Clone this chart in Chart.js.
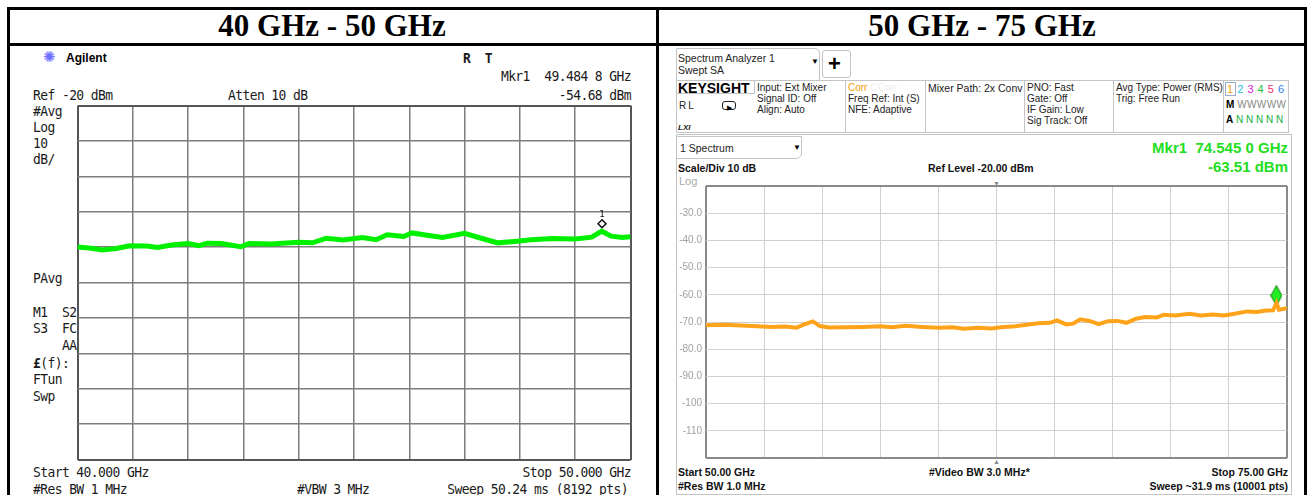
<!DOCTYPE html>
<html>
<head>
<meta charset="utf-8">
<script src="https://cdn.jsdelivr.net/npm/chart.js@4.4.1/dist/chart.umd.min.js"></script>
<style>
html,body{margin:0;padding:0;background:#fff;}
#wrap{position:relative;width:1311px;height:495px;overflow:hidden;font-family:Arial,"Liberation Sans",sans-serif;}
.b{position:absolute;background:#000;}
.t{position:absolute;white-space:pre;line-height:1;}
.ttl{font-family:"Liberation Serif","Times New Roman",serif;font-weight:bold;font-size:31px;width:640px;text-align:center;top:10px;}
.mono{font-family:"DejaVu Sans Mono",monospace;font-size:13px;letter-spacing:-0.6px;color:#1a1a1a;transform:scaleY(1.12);transform-origin:0 50%;}
.mono.r{transform-origin:100% 50%;}
.ks{font-size:10px;color:#222;}
.kb{font-size:10.5px;font-weight:bold;color:#111;}
.box{position:absolute;border:1px solid #c4c4c4;box-sizing:border-box;}
.grn{color:#22dd22;font-weight:bold;font-size:15px;}
canvas{position:absolute;}
</style>
</head>
<body>
<div id="wrap">
  <!-- marco de la tabla -->
  <div class="b" style="left:7px;top:7px;width:1300px;height:3px"></div>
  <div class="b" style="left:7px;top:43px;width:1300px;height:3px"></div>
  <div class="b" style="left:7px;top:7px;width:3px;height:488px"></div>
  <div class="b" style="left:656px;top:7px;width:3px;height:488px"></div>
  <div class="b" style="left:1304px;top:7px;width:3px;height:488px"></div>
  <div class="t ttl" style="left:12px">40 GHz - 50 GHz</div>
  <div class="t ttl" style="left:662px">50 GHz - 75 GHz</div>

  <!-- panel izquierdo (Agilent) -->
  <div class="t" style="left:43px;top:49px;font-size:15px;color:#7070ff">✺</div>
  <div class="t" style="left:66px;top:52px;font-size:12px;font-weight:bold">Agilent</div>
  <div class="t mono" style="left:463px;top:51px;font-weight:bold">R  T</div>
  <div class="t mono r" style="right:680px;top:69px">Mkr1  49.484 8 GHz</div>
  <div class="t mono" style="left:33px;top:88px">Ref -20 dBm</div>
  <div class="t mono" style="left:228px;top:88px">Atten 10 dB</div>
  <div class="t mono r" style="right:680px;top:88px">-54.68 dBm</div>
  <div class="t mono" style="left:33px;top:104px">#Avg</div>
  <div class="t mono" style="left:33px;top:120px">Log</div>
  <div class="t mono" style="left:33px;top:136px">10</div>
  <div class="t mono" style="left:33px;top:152px">dB/</div>
  <div class="t mono" style="left:33px;top:271px">PAvg</div>
  <div class="t mono" style="left:33px;top:305px">M1  S2</div>
  <div class="t mono" style="left:33px;top:321px">S3  FC</div>
  <div class="t mono" style="left:33px;top:338px">    AA</div>
  <div class="t mono" style="left:33px;top:356px"><b>£</b>(f):</div>
  <div class="t mono" style="left:33px;top:372px">FTun</div>
  <div class="t mono" style="left:33px;top:389px">Swp</div>
  <div class="t mono" style="left:33px;top:465px">Start 40.000 GHz</div>
  <div class="t mono r" style="right:680px;top:465px">Stop 50.000 GHz</div>
  <div class="t mono" style="left:33px;top:482px">#Res BW 1 MHz</div>
  <div class="t mono" style="left:297px;top:482px">#VBW 3 MHz</div>
  <div class="t mono r" style="right:683px;top:482px">Sweep 50.24 ms (8192 pts)</div>
  <canvas id="chartIzq" width="564" height="365" style="left:72px;top:100px"></canvas>

  <!-- panel derecho (Keysight) -->
  <div class="box" style="left:676px;top:48px;width:144px;height:33px;border-radius:0 5px 0 0"></div>
  <div class="t ks" style="left:678px;top:53px;font-size:10.5px">Spectrum Analyzer 1</div>
  <div class="t ks" style="left:678px;top:65px;font-size:10.5px">Swept SA</div>
  <div class="t" style="left:811px;top:58px;font-size:8px">▼</div>
  <div class="box" style="left:822px;top:50px;width:29px;height:28px;border-radius:3px"></div>
  <div class="t" style="left:828px;top:53px;font-size:22px;font-weight:bold">+</div>
  <div class="box" style="left:676px;top:80px;width:613px;height:53px"></div>
  <div class="box" style="left:676px;top:80px;width:79px;height:14px;border-width:0 1px 1px 0"></div>
  <div class="box" style="left:754px;top:80px;width:92px;height:53px;border-width:0 1px 0 0"></div>
  <div class="box" style="left:845px;top:80px;width:81px;height:53px;border-width:0 1px 0 0"></div>
  <div class="box" style="left:925px;top:80px;width:100px;height:53px;border-width:0 1px 0 0"></div>
  <div class="box" style="left:1024px;top:80px;width:90px;height:53px;border-width:0 1px 0 0"></div>
  <div class="box" style="left:1113px;top:80px;width:111px;height:53px;border-width:0 1px 0 0"></div>
  <div class="t" style="left:678px;top:81px;font-size:14px;font-weight:bold">KEYSIGHT</div>
  <div class="t ks" style="left:679px;top:101px;letter-spacing:2px">RL</div>
  <div class="box" style="left:722px;top:101px;width:14px;height:9px;border:1.5px solid #222;border-radius:3px"></div>
  <div class="t" style="left:727px;top:104px;font-size:7px">▶</div>
  <div class="t ks" style="left:678px;top:124px;font-size:8px;font-style:italic;font-weight:bold">LXI</div>
  <div class="t ks" style="left:757px;top:83px">Input: Ext Mixer</div>
  <div class="t ks" style="left:757px;top:94px">Signal ID: Off</div>
  <div class="t ks" style="left:757px;top:105px">Align: Auto</div>
  <div class="t ks" style="left:848px;top:83px"><span style="color:#f5a000">Corr</span> <span style="color:#eee">CCorr</span></div>
  <div class="t ks" style="left:848px;top:94px">Freq Ref: Int (S)</div>
  <div class="t ks" style="left:848px;top:105px">NFE: Adaptive</div>
  <div class="t ks" style="left:928px;top:83px;width:96px;overflow:hidden;font-size:10.5px">Mixer Path: 2x Conv</div>
  <div class="t ks" style="left:1027px;top:83px">PNO: Fast</div>
  <div class="t ks" style="left:1027px;top:94px">Gate: Off</div>
  <div class="t ks" style="left:1027px;top:105px">IF Gain: Low</div>
  <div class="t ks" style="left:1027px;top:116px">Sig Track: Off</div>
  <div class="t ks" style="left:1116px;top:83px">Avg Type: Power (RMS)</div>
  <div class="t ks" style="left:1116px;top:94px">Trig: Free Run</div>
  <div class="box" style="left:1225px;top:82px;width:11px;height:14px;border-color:#9ac"></div>
  <div class="t" style="left:1227px;top:84px;font-size:11px;word-spacing:1px"><span style="color:#f5a000">1</span> <span style="color:#20c0e0">2</span> <span style="color:#e020e0">3</span> <span style="color:#20c040">4</span> <span style="color:#f03070">5</span> <span style="color:#3080f0">6</span></div>
  <div class="t" style="left:1226px;top:100px;font-size:10px"><b>M</b> <span style="color:#888;letter-spacing:0.4px">WWWWW</span></div>
  <div class="t" style="left:1226px;top:115px;font-size:10px"><b>A</b> <span style="color:#20b040">N N N N N</span></div>

  <div class="box" style="left:676px;top:134px;width:616px;height:361px"></div>
  <div class="box" style="left:676px;top:136px;width:126px;height:23px;border-radius:0 0 6px 0"></div>
  <div class="t ks" style="left:680px;top:143px;font-size:10.5px">1 Spectrum</div>
  <div class="t" style="left:793px;top:144px;font-size:8px">▼</div>
  <div class="t grn" style="right:23px;top:140px">Mkr1  74.545 0 GHz</div>
  <div class="t grn" style="right:23px;top:159px">-63.51 dBm</div>
  <div class="t kb" style="left:678px;top:163px">Scale/Div 10 dB</div>
  <div class="t kb" style="left:928px;top:163px">Ref Level -20.00 dBm</div>
  <div class="t" style="left:679px;top:176px;font-size:11px;color:#aaa">Log</div>
  <div class="t" style="left:993px;top:180px;font-size:7px;color:#888">▼</div>
  <div class="t" style="left:993px;top:458px;font-size:7px;color:#888">▲</div>
  <div class="t kb" style="left:678px;top:467px">Start 50.00 GHz</div>
  <div class="t kb" style="left:929px;top:467px">#Video BW 3.0 MHz*</div>
  <div class="t kb" style="right:23px;top:467px">Stop 75.00 GHz</div>
  <div class="t kb" style="left:678px;top:481px">#Res BW 1.0 MHz</div>
  <div class="t kb" style="right:23px;top:481px">Sweep ~31.9 ms (10001 pts)</div>
  <canvas id="chartDer" width="616" height="292" style="left:676px;top:176px"></canvas>
</div>

<script>
const frecIzq = [40.00,40.25,40.45,40.70,40.95,41.25,41.45,41.70,42.00,42.20,42.35,42.60,42.95,43.10,43.50,44.00,44.25,44.50,44.80,45.15,45.40,45.60,45.90,46.05,46.35,46.60,47.00,47.30,47.60,47.90,48.20,48.60,49.00,49.30,49.48,49.65,49.85,50.00]
const nivelIzq = [-60.0,-60.3,-60.8,-60.4,-59.6,-59.7,-60.1,-59.4,-59.0,-59.6,-58.9,-59.0,-59.9,-59.0,-59.1,-58.6,-58.8,-57.5,-58.0,-57.3,-57.9,-56.5,-57.0,-56.0,-56.7,-57.3,-56.1,-57.5,-58.8,-58.4,-57.9,-57.6,-57.7,-57.2,-55.5,-56.9,-57.3,-57.1]
const marcadorIzq = {x: 49.4848, y: -53.4}

const frecDer = [50.0,50.8,51.5,52.2,52.8,53.4,53.9,54.2,54.6,54.9,55.3,56.0,56.8,57.5,58.0,58.6,59.3,60.0,60.6,61.1,61.7,62.3,62.7,63.3,63.8,64.3,64.8,65.1,65.5,65.8,66.1,66.5,66.9,67.3,67.7,68.1,68.5,68.9,69.4,69.7,70.2,70.8,71.3,71.8,72.3,72.8,73.3,73.7,74.1,74.4,74.55,74.65,75.0]
const nivelDer = [-71.2,-71.0,-71.3,-71.6,-71.8,-71.7,-72.1,-71.0,-69.8,-71.5,-72.0,-71.9,-71.8,-71.6,-71.9,-71.4,-71.8,-72.1,-71.9,-72.5,-72.1,-72.4,-71.9,-71.6,-71.0,-70.5,-70.3,-69.4,-70.9,-70.6,-69.0,-69.6,-70.8,-69.7,-69.6,-70.3,-68.8,-68.2,-68.3,-67.3,-67.6,-67.0,-67.6,-67.2,-67.6,-66.9,-66.1,-66.3,-65.8,-65.7,-63.0,-65.5,-64.9]
const marcadorDer = {x: 74.545, y: -60.3}

// Etiquetas del eje Y del panel derecho
const valoresEjeDer = [-30,-40,-50,-60,-70,-80,-90,-100,-110]
const etiquetasEjeDer = ["-30.0","-40.0","-50.0","-60.0","-70.0","-80.0","-90.0","-100","-110"]

function armarPuntos(xs, ys){
    return xs.map((x, i) => ({x: x, y: ys[i]}))
}

// rombo verde alargado para el marcador de Keysight
const rombo = document.createElement("canvas")
rombo.width = 12
rombo.height = 21
const rc = rombo.getContext("2d")
rc.beginPath()
rc.moveTo(6, 0.5); rc.lineTo(11.5, 10.5); rc.lineTo(6, 20.5); rc.lineTo(0.5, 10.5); rc.closePath()
rc.fillStyle = "#22ee22"
rc.fill()
rc.strokeStyle = "#0a7a0a"
rc.lineWidth = 1
rc.stroke()

// dibuja el "1" sobre el marcador del panel izquierdo
const etiquetaMarcador = {
    id: "etiquetaMarcador",
    afterDatasetsDraw(chart){
        const meta = chart.getDatasetMeta(1)
        const p = meta.data[0]
        const ctx = chart.ctx
        ctx.save()
        ctx.font = "9px 'DejaVu Sans Mono'"
        ctx.fillStyle = "#111"
        ctx.textAlign = "center"
        ctx.fillText("1", p.x, p.y - 7)
        ctx.restore()
    }
}

function colorBorde(oscuro, claro){
    return (c) => (c.index === 0 || c.index === c.scale.ticks.length - 1) ? oscuro : claro
}
function anchoBorde(grueso, fino){
    return (c) => (c.index === 0 || c.index === c.scale.ticks.length - 1) ? grueso : fino
}

Chart.defaults.animation = false

new Chart(document.getElementById("chartIzq"), {
    type: "line",
    data: {
        datasets: [{
            data: armarPuntos(frecIzq, nivelIzq),
            borderColor: "#00f000",
            borderWidth: 5,
            pointRadius: 0,
            tension: 0
        }, {
            data: [marcadorIzq],
            showLine: false,
            pointStyle: "rectRot",
            pointRadius: 4,
            borderColor: "#111",
            backgroundColor: "#fff",
            borderWidth: 1.5
        }]
    },
    options: {
        responsive: false,
        devicePixelRatio: 1,
        layout: {padding: 4},
        plugins: {legend: {display: false}, tooltip: {enabled: false}},
        scales: {
            x: {
                type: "linear", min: 40, max: 50,
                ticks: {display: false, stepSize: 1},
                grid: {drawTicks: false, color: colorBorde("#555", "#7d7d7d"), lineWidth: anchoBorde(2, 1.5)},
                border: {display: false}
            },
            y: {
                min: -120, max: -20,
                ticks: {display: false, stepSize: 10},
                grid: {drawTicks: false, color: colorBorde("#555", "#7d7d7d"), lineWidth: anchoBorde(2, 1.5)},
                border: {display: false}
            }
        }
    },
    plugins: [etiquetaMarcador]
})

new Chart(document.getElementById("chartDer"), {
    type: "line",
    data: {
        datasets: [{
            data: armarPuntos(frecDer, nivelDer),
            borderColor: "#ffa31a",
            borderWidth: 4,
            pointRadius: 0,
            tension: 0
        }, {
            data: [marcadorDer],
            showLine: false,
            pointStyle: rombo
        }]
    },
    options: {
        responsive: false,
        devicePixelRatio: 1,
        layout: {padding: {top: 4, right: 4, bottom: 4, left: 0}},
        plugins: {legend: {display: false}, tooltip: {enabled: false}},
        scales: {
            x: {
                type: "linear", min: 50, max: 75,
                ticks: {display: false, stepSize: 2.5},
                grid: {drawTicks: false, color: colorBorde("#8a8a8a", "#d0d0d0"), lineWidth: anchoBorde(2, 1)},
                border: {display: false}
            },
            y: {
                min: -120, max: -20,
                afterFit: (s) => { s.width = 30 },
                ticks: {
                    stepSize: 10,
                    padding: 4,
                    color: "#a0a0a0",
                    font: {family: "Arial", size: 10},
                    callback: (v) => {
                        const i = valoresEjeDer.indexOf(v)
                        return i >= 0 ? etiquetasEjeDer[i] : ""
                    }
                },
                grid: {drawTicks: false, color: colorBorde("#8a8a8a", "#d0d0d0"), lineWidth: anchoBorde(2, 1)},
                border: {display: false}
            }
        }
    }
})
</script>
</body>
</html>
